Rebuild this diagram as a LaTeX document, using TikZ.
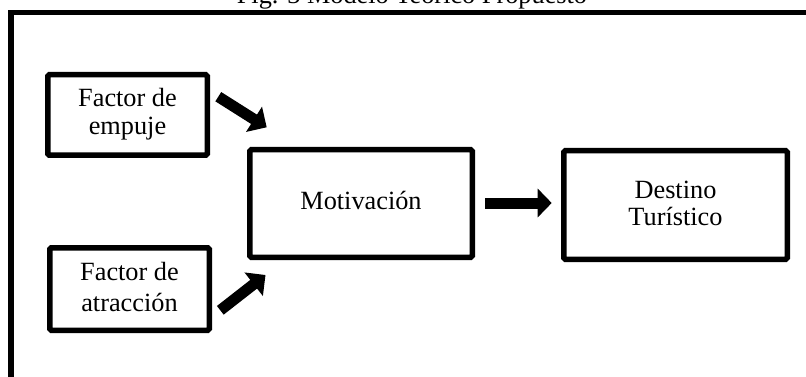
\documentclass[tikz,border=0pt]{standalone}
\usepackage{fontspec}
\setmainfont{Liberation Serif}
\usetikzlibrary{arrows.meta}
\tikzset{
  box/.style={draw=black, line width=5.5pt, rounded corners=1.5pt, inner sep=0pt, align=center,
    font=\fontsize{26.3pt}{28pt}\selectfont},
  bigarrow/.style={line width=11pt, -{Triangle[length=15pt,width=29pt]}},
  frameline/.style={line width=5.5pt, line cap=butt, line join=miter}
}
\begin{document}
\begin{tikzpicture}[x=1pt,y=-1pt]
\useasboundingbox (0,0) rectangle (806,377);
\clip (0,0) rectangle (806,377);
% frame and title
\coordinate (fbl) at (11,400);
\coordinate (ftl) at (11,12.3);
\coordinate (ftr) at (830,12.3);
\draw[frameline] (fbl) -- (ftl) -- (ftr);
\node[anchor=base, inner sep=0pt, font=\fontsize{26.3pt}{28pt}\selectfont] (title) at (412,3.5) {Fig. 3 Modelo Teórico Propuesto};
% boxes
\node[box, minimum width=159.5pt, minimum height=80.5pt, text height=45pt, text depth=6pt] (empuje) at (127.5,115) {Factor de\\empuje};
\node[box, minimum width=159.5pt, minimum height=82.5pt, text height=50pt, text depth=4.6pt,
  font=\fontsize{26.3pt}{31pt}\selectfont] (atraccion) at (129.5,289) {Factor de\\atracción};
\node[box, minimum width=222.5pt, minimum height=107.5pt, text height=18pt, text depth=6.4pt] (motiv) at (361,203.5) {Motivación};
\node[box, minimum width=223.5pt, minimum height=108.5pt, text height=45pt, text depth=5pt,
  font=\fontsize{26.3pt}{27pt}\selectfont] (destino) at (675.5,205) {Destino\\Turístico};
% arrow end points
\coordinate (a1s) at (218.3,96.7);
\coordinate (a1e) at (266.7,127.3);
\coordinate (a2s) at (220.3,310.3);
\coordinate (a2e) at (265.5,275);
\coordinate (a3s) at (485,203);
\coordinate (a3e) at (551.7,203);
\draw[bigarrow] (a1s) -- (a1e);
\draw[bigarrow] (a2s) -- (a2e);
\draw[bigarrow, -{Triangle[length=14pt,width=28pt]}] (a3s) -- (a3e);
\end{tikzpicture}
\end{document}
